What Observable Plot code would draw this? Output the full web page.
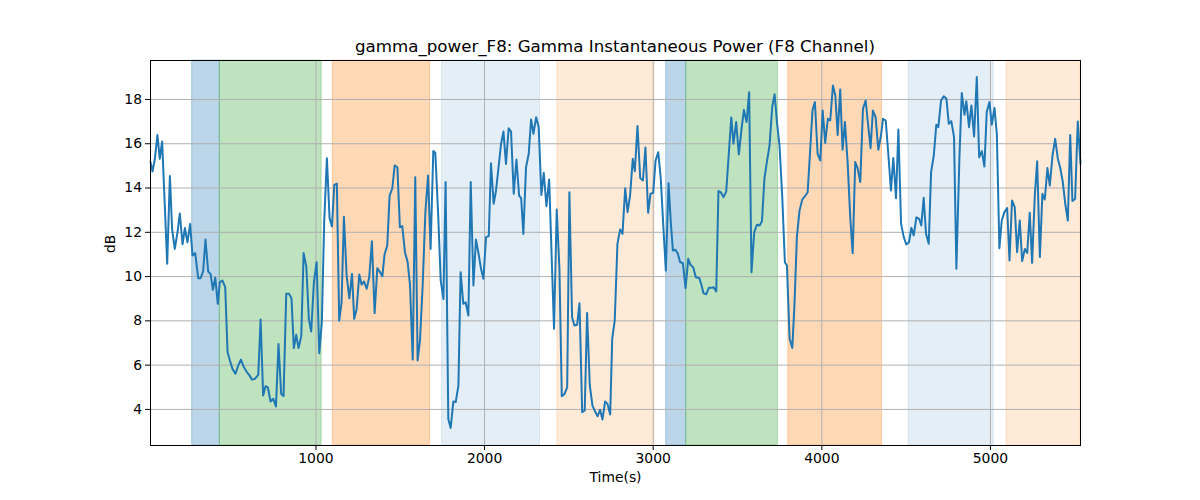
<!DOCTYPE html>
<html>
<head>
<meta charset="utf-8">
<script src="https://cdn.jsdelivr.net/npm/d3@7"></script>
<script src="https://cdn.jsdelivr.net/npm/@observablehq/plot@0.6"></script>
<style>
  html, body { margin: 0; padding: 0; background: white; }
  #wrap { position: relative; width: 1200px; height: 500px; font-family: "DejaVu Sans", sans-serif; }
  #title { position: absolute; left: 150px; width: 930px; top: 37px; text-align: center; font-size: 16.67px; color: black; line-height: 20px; }
  #chart { position: absolute; left: 0; top: 0; }
</style>
</head>
<body>
<div id="wrap">
  <div id="chart"></div>
  <div id="title">gamma_power_F8: Gamma Instantaneous Power (F8 Channel)</div>
</div>
<script>
const times = [19,31,45,60,74,88,118,134,147,163,179,193,209,223,238,254,268,284,302,316,331,345,361,375,389,403,418,430,446,462,476,490,505,523,539,555,573,588,604,620,638,658,672,687,701,715,731,747,763,778,794,808,824,840,855,869,883,897,913,927,943,958,972,988,1004,1020,1035,1049,1065,1081,1095,1109,1124,
1138,1152,1166,1182,1198,1214,1227,1241,1257,1271,1285,1301,1316,1332,1348,1364,1380,1394,1407,1423,1437,1453,1467,1483,1498,1512,1528,1544,1558,1574,1589,1603,1617,1633,1649,1665,1680,1696,1708,1726,1740,1756,1769,1785,1799,1815,1829,1845,1858,1874,1888,1904,1918,1934,1949,1963,1979,1993,2009,2025,2038,2054,2068,2082,2098,2112,2127,2143,2157,2173,2189,2205,
2217,2230,2246,2262,2276,2290,2306,2321,2337,2351,2367,2383,2399,2412,2428,2444,2458,2474,2490,2503,2519,2533,2549,2563,2579,2594,2608,2624,2640,2656,2670,2685,2699,2715,2729,2745,2757,2772,2788,2804,2818,2834,2848,2863,2879,2891,2907,2923,2939,2954,2970,2984,3000,3014,3030,3045,3061,3075,3091,3105,3117,3132,3146,3160,3176,3192,3208,3221,3237,3253,3273,
3287,3298,3314,3330,3346,3358,3374,3387,3401,3417,3433,3449,3463,3476,3492,3508,3524,3538,3554,3569,3583,3599,3615,3631,3645,3660,3674,3690,3706,3720,3734,3749,3765,3781,3793,3809,3825,3838,3852,3868,3884,3900,3916,3929,3945,3959,3975,3991,4005,4020,4036,4050,4066,4080,4094,4109,4123,4137,4153,4169,4183,4198,4212,4228,4244,4260,4274,4289,4303,4319,4335,
4351,4363,4379,4395,4410,4424,4440,4454,4470,4486,4501,4517,4531,4545,4561,4577,4590,4604,4618,4634,4648,4664,4679,4691,4707,4723,4739,4753,4768,4784,4798,4816,4830,4846,4857,4873,4887,4903,4919,4933,4949,4964,4978,4994,5008,5024,5038,5053,5067,5083,5099,5113,5128,5144,5158,5174,5188,5204,5218,5233,5247,5263,5277,5293,5308,5322,5338,5352,5368,5384,5399,5415,5429,5445,5459,5473,5486,5502,5518,5534];

const powerDb = [15.17,14.75,15.32,16.40,15.32,16.10,10.58,14.54,12.16,11.25,12.00,12.85,11.46,12.19,11.55,12.38,10.95,11.06,9.93,9.93,10.23,11.67,10.23,10.12,9.40,9.96,8.77,9.75,9.82,9.52,6.58,6.21,5.83,5.61,5.98,6.25,5.91,5.71,5.56,5.35,5.38,5.56,8.06,4.63,5.05,4.99,4.36,4.48,4.13,6.95,4.70,4.60,9.22,9.23,9.02,6.77,7.37,6.77,7.31,11.06,10.45,8.09,7.52,9.75,10.65,6.54,7.94,12.46,15.35,12.64,12.26,14.14,14.20,
8.01,8.84,12.70,10.05,9.02,10.12,8.09,8.51,10.09,9.63,9.78,9.45,9.97,11.60,8.35,10.38,10.20,10.02,11.00,11.40,13.66,13.99,15.02,14.94,12.23,12.28,11.10,10.65,9.60,6.25,14.49,6.21,7.11,9.60,12.91,14.57,11.25,15.67,15.59,12.61,9.82,8.99,14.27,3.57,3.16,4.36,4.33,5.08,10.20,8.77,8.84,8.24,14.27,9.60,11.67,11.10,10.35,9.90,11.78,11.83,15.12,13.29,13.89,14.87,16.00,16.55,15.09,16.70,16.55,13.74,15.29,13.66,
13.54,11.93,14.94,15.55,17.10,16.45,17.20,16.75,13.69,14.69,13.18,14.39,10.65,7.64,13.03,10.35,4.60,4.70,5.00,13.81,8.16,7.79,7.82,8.80,3.87,3.95,8.36,5.08,4.17,3.90,3.69,3.98,3.54,4.36,4.25,3.77,7.19,8.02,11.48,12.13,11.93,13.99,12.91,13.66,15.32,14.76,16.80,14.45,14.34,15.83,12.88,13.74,13.78,15.23,15.62,14.42,12.16,10.27,14.22,12.38,11.18,11.21,11.03,10.65,10.61,9.48,10.80,10.53,10.42,9.97,9.94,
9.60,9.25,9.20,9.49,9.49,9.52,9.33,13.86,13.81,13.59,13.84,15.62,17.19,16.00,16.98,15.52,16.67,17.53,16.98,18.33,10.20,12.00,12.34,12.31,12.50,14.45,15.17,15.92,17.68,18.23,16.98,15.92,13.66,10.65,10.50,7.19,6.78,8.77,11.78,12.99,13.48,13.63,13.81,15.47,17.53,17.88,15.55,15.24,17.50,16.04,17.13,17.05,18.63,18.18,16.40,18.45,15.73,16.98,15.17,12.61,11.06,15.17,14.90,14.27,17.58,17.95,16.90,15.80,17.50,17.20,15.73,
16.37,17.13,17.05,15.47,13.89,15.36,13.54,16.64,12.38,11.78,11.45,11.55,12.20,11.86,12.68,12.61,12.31,13.56,11.93,11.48,14.72,15.47,16.86,16.75,17.95,18.14,18.03,16.90,17.02,16.30,10.35,15.39,18.29,17.31,17.92,16.75,17.73,16.33,19.01,15.39,15.67,14.97,17.43,17.88,16.86,17.62,16.40,11.28,12.53,12.91,13.09,10.73,13.44,13.14,11.10,12.53,10.70,11.25,11.07,12.88,10.62,13.66,15.21,10.88,13.74,13.48,14.90,14.11,15.47,16.22,15.35,14.87,14.27,13.21,12.53,16.40,13.41,13.51,17.01,15.09];

const spanStarts = [266, 430, 1100, 1748, 2432, 3077, 3196, 3801, 4515, 5095];
const spanEnds   = [430, 1034, 1677, 2329, 3008, 3196, 3740, 4357, 5020, 5534];
const spanKinds  = ["blue", "green", "orange", "lightblue", "lightorange", "blue", "green", "orange", "lightblue", "lightorange"];

const xTicks = [1000, 2000, 3000, 4000, 5000];
const yTicks = [4, 6, 8, 10, 12, 14, 16, 18];

const kindColor = {blue: "#1f77b4", green: "#2ca02c", orange: "#ff7f0e", lightblue: "#1f77b4", lightorange: "#ff7f0e"};
const kindOpacity = {blue: 0.3, green: 0.3, orange: 0.3, lightblue: 0.12, lightorange: 0.16};

const series = times.map((t, i) => ({t, v: powerDb[i]}));
const spans = spanStarts.map((s, i) => ({s, e: spanEnds[i], k: spanKinds[i]}));

const chart = Plot.plot({
  width: 1200,
  height: 500,
  marginLeft: 150,
  marginRight: 120,
  marginTop: 60,
  marginBottom: 55,
  style: {fontFamily: "DejaVu Sans, sans-serif", fontSize: "13.9px", color: "black", background: "white"},
  x: {domain: [19, 5534]},
  y: {domain: [2.37, 19.76]},
  marks: [
    Plot.rect(spans, {x1: "s", x2: "e", fill: d => kindColor[d.k], fillOpacity: d => kindOpacity[d.k], stroke: d => kindColor[d.k], strokeOpacity: d => kindOpacity[d.k], strokeWidth: 1}),
    Plot.ruleX(xTicks, {stroke: "#b0b0b0", strokeWidth: 1}),
    Plot.ruleY(yTicks, {stroke: "#b0b0b0", strokeWidth: 1}),
    Plot.line(series, {x: "t", y: "v", stroke: "#1f77b4", strokeWidth: 2}),
    Plot.axisX({ticks: xTicks, tickSize: 5, tickPadding: 3, label: null, tickFormat: d => String(d), stroke: "black"}),
    Plot.axisY({ticks: yTicks, tickSize: 5, tickPadding: 3.5, label: null, tickFormat: d => String(d), stroke: "black"}),
    Plot.frame({stroke: "black", strokeWidth: 1}),
    Plot.text(["Time(s)"], {frameAnchor: "bottom", dy: 36, text: d => d, fontSize: 13.9, fill: "black"}),
    Plot.text(["dB"], {frameAnchor: "left", dx: -40, rotate: -90, text: d => d, fontSize: 13.9, fill: "black"})
  ]
});
document.getElementById("chart").appendChild(chart);
</script>
</body>
</html>
